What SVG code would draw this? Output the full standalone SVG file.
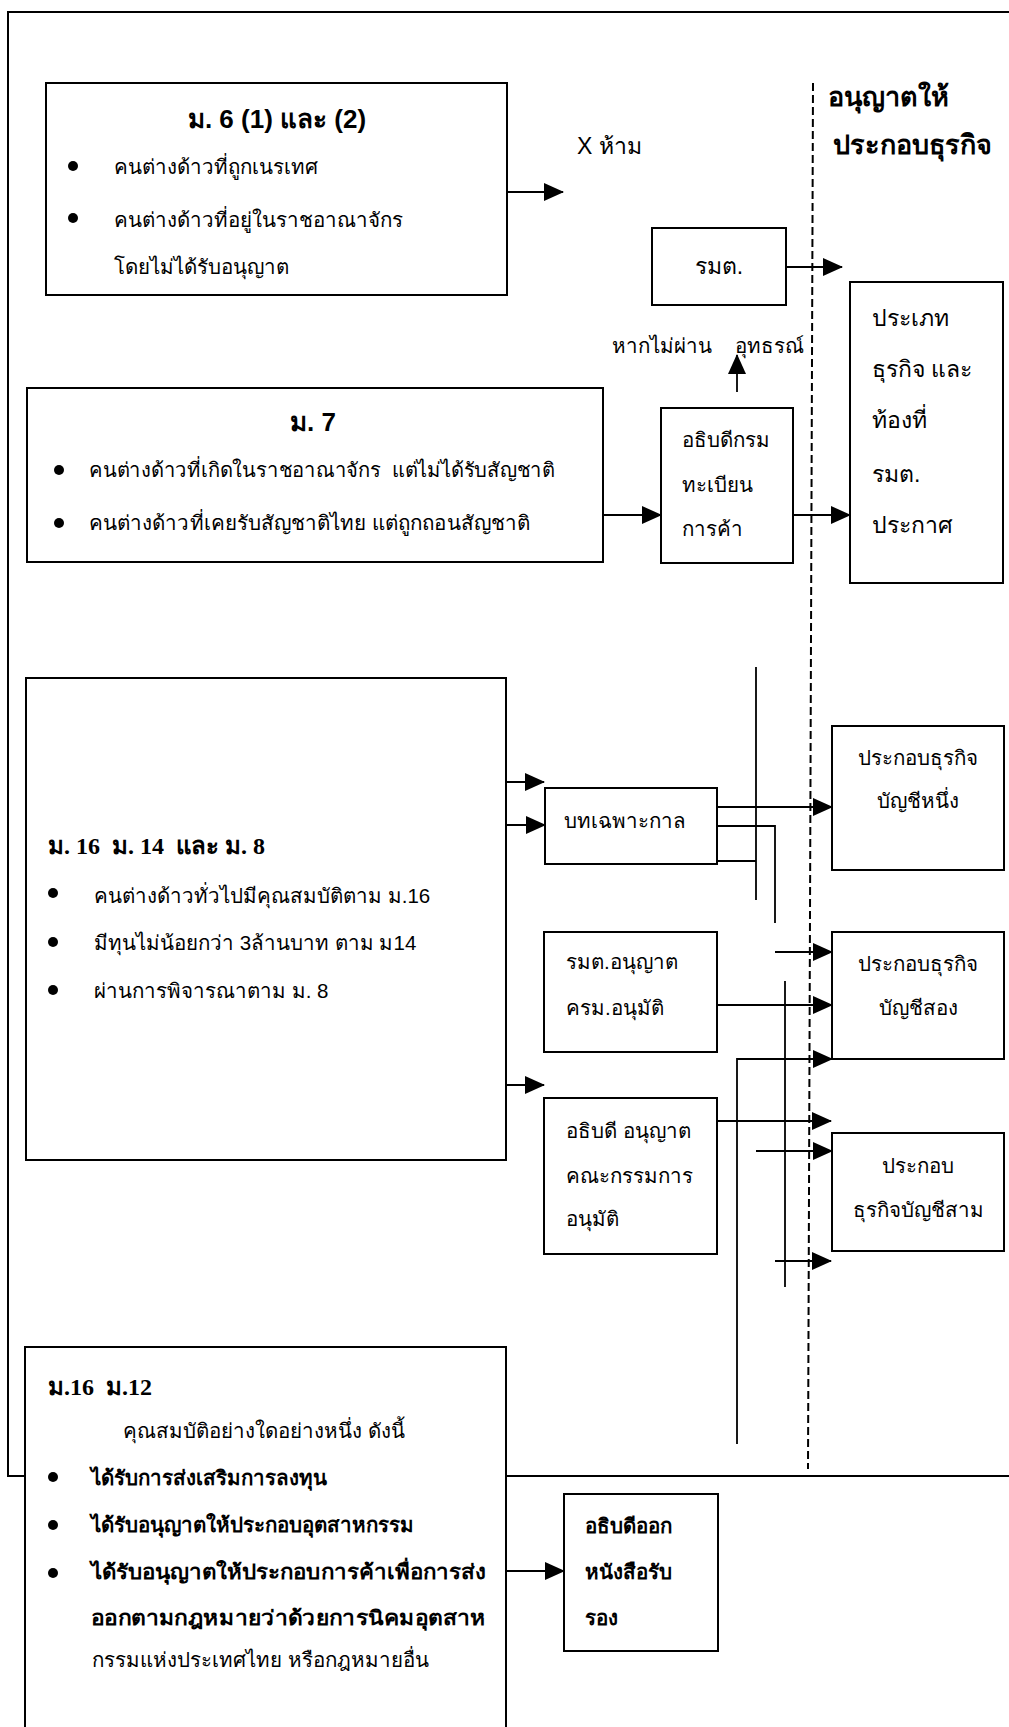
<svg xmlns="http://www.w3.org/2000/svg" width="1009" height="1727" viewBox="0 0 1009 1727">
<style>
text{font-family:'Liberation Sans','DejaVu Sans','Noto Sans',sans-serif;font-size:20.5px;fill:#000}
.b{font-weight:bold}
.t{font-size:26px;font-weight:bold}
.h{font-size:27px;font-weight:bold}
.m{font-size:23px}
.s{font-family:'Liberation Serif','DejaVu Serif',serif;font-size:24px;font-weight:bold}
.c{text-anchor:middle}
.box{fill:none;stroke:#000;stroke-width:2}
.ln{fill:none;stroke:#000;stroke-width:1.8}
.ar{fill:none;stroke:#000;stroke-width:1.8;marker-end:url(#ah)}
.dash{fill:none;stroke:#000;stroke-width:2;stroke-dasharray:8 4}
</style>
<defs>
<marker id="ah" markerUnits="userSpaceOnUse" markerWidth="20" markerHeight="18" refX="19" refY="9" orient="auto">
<path d="M0,0 L20,9 L0,18 Z" fill="#000"/>
</marker>
</defs>
<rect x="0" y="0" width="1009" height="1727" fill="#fff"/>

<g id="frame">
<path class="box" d="M25,1476 H8 V12 H1009"/>
<path class="box" d="M506,1476 H1009"/>
<path class="dash" d="M813,83 L808,1469"/>
</g>

<g id="n-m6">
<rect class="box" x="46" y="83" width="461" height="212"/>
<text class="t c" x="277" y="128">ม. 6 (1) และ (2)</text>
<circle cx="73" cy="166" r="5"/>
<circle cx="73" cy="218" r="5"/>
<text x="114" y="174">คนต่างด้าวที่ถูกเนรเทศ</text>
<text x="114" y="227">คนต่างด้าวที่อยู่ในราชอาณาจักร</text>
<text x="114" y="274">โดยไม่ได้รับอนุญาต</text>
</g>

<g id="n-ban">
<text class="m" x="577" y="154">X ห้าม</text>
</g>

<g id="n-allow">
<text class="h" x="828" y="106">อนุญาตให้</text>
<text class="h" x="833" y="154">ประกอบธุรกิจ</text>
</g>

<g id="n-rmt">
<rect class="box" x="652" y="228" width="134" height="77"/>
<text class="m c" x="719" y="274">รมต.</text>
</g>

<g id="n-type">
<rect class="box" x="850" y="282" width="153" height="301"/>
<text class="m" x="872" y="326">ประเภท</text>
<text class="m" x="872" y="377">ธุรกิจ และ</text>
<text class="m" x="872" y="428">ท้องที่</text>
<text class="m" x="872" y="482">รมต.</text>
<text class="m" x="872" y="533">ประกาศ</text>
</g>

<g id="n-appeal">
<text x="612" y="353">หากไม่ผ่าน</text>
<text x="735" y="353">อุทธรณ์</text>
</g>

<g id="n-m7">
<rect class="box" x="27" y="388" width="576" height="174"/>
<text class="t c" x="313" y="431">ม. 7</text>
<circle cx="59" cy="470" r="5"/>
<circle cx="59" cy="523" r="5"/>
<text x="89" y="477" textLength="466" lengthAdjust="spacingAndGlyphs" xml:space="preserve">คนต่างด้าวที่เกิดในราชอาณาจักร  แต่ไม่ได้รับสัญชาติ</text>
<text x="89" y="530" textLength="441" lengthAdjust="spacingAndGlyphs">คนต่างด้าวที่เคยรับสัญชาติไทย แต่ถูกถอนสัญชาติ</text>
</g>

<g id="n-dg">
<rect class="box" x="661" y="408" width="132" height="155"/>
<text x="682" y="447">อธิบดีกรม</text>
<text x="682" y="492">ทะเบียน</text>
<text x="682" y="536">การค้า</text>
</g>

<g id="n-m16">
<rect class="box" x="26" y="678" width="480" height="482"/>
<text class="s" x="48" y="854" xml:space="preserve">ม. 16  ม. 14  และ ม. 8</text>
<circle cx="53" cy="893" r="5"/>
<circle cx="53" cy="942" r="5"/>
<circle cx="53" cy="990" r="5"/>
<text x="94" y="903">คนต่างด้าวทั่วไปมีคุณสมบัติตาม ม.16</text>
<text x="94" y="950">มีทุนไม่น้อยกว่า 3ล้านบาท ตาม ม14</text>
<text x="94" y="998">ผ่านการพิจารณาตาม ม. 8</text>
</g>

<g id="n-trans">
<rect class="box" x="545" y="788" width="172" height="76"/>
<text x="564" y="828">บทเฉพาะกาล</text>
</g>

<g id="n-cab">
<rect class="box" x="544" y="932" width="173" height="120"/>
<text x="566" y="969">รมต.อนุญาต</text>
<text x="566" y="1015">ครม.อนุมัติ</text>
</g>

<g id="n-dgc">
<rect class="box" x="544" y="1098" width="173" height="156"/>
<text x="566" y="1138">อธิบดี อนุญาต</text>
<text x="566" y="1183">คณะกรรมการ</text>
<text x="566" y="1226">อนุมัติ</text>
</g>

<g id="n-l1">
<rect class="box" x="832" y="726" width="172" height="144"/>
<text class="c" x="918" y="765">ประกอบธุรกิจ</text>
<text class="c" x="918" y="808">บัญชีหนึ่ง</text>
</g>

<g id="n-l2">
<rect class="box" x="832" y="932" width="172" height="127"/>
<text class="c" x="918" y="971">ประกอบธุรกิจ</text>
<text class="c" x="918" y="1015">บัญชีสอง</text>
</g>

<g id="n-l3">
<rect class="box" x="832" y="1133" width="172" height="118"/>
<text class="c" x="918" y="1173">ประกอบ</text>
<text class="c" x="918" y="1217">ธุรกิจบัญชีสาม</text>
</g>

<g id="n-m12">
<path class="box" d="M25,1727 V1347 H506 V1727"/>
<text class="s" x="48" y="1395" xml:space="preserve">ม.16  ม.12</text>
<text x="123" y="1438">คุณสมบัติอย่างใดอย่างหนึ่ง ดังนี้</text>
<circle cx="53" cy="1477" r="5"/>
<circle cx="53" cy="1525" r="5"/>
<circle cx="53" cy="1573" r="5"/>
<text class="b" x="91" y="1485">ได้รับการส่งเสริมการลงทุน</text>
<text class="b" x="91" y="1532">ได้รับอนุญาตให้ประกอบอุตสาหกรรม</text>
<text class="b" x="91" y="1579" textLength="395" lengthAdjust="spacingAndGlyphs">ได้รับอนุญาตให้ประกอบการค้าเพื่อการส่ง</text>
<text class="b" x="91" y="1625" textLength="395" lengthAdjust="spacingAndGlyphs">ออกตามกฎหมายว่าด้วยการนิคมอุตสาห</text>
<text x="92" y="1667">กรรมแห่งประเทศไทย หรือกฎหมายอื่น</text>
</g>

<g id="n-cert">
<rect class="box" x="564" y="1494" width="154" height="157"/>
<text class="b" x="585" y="1533">อธิบดีออก</text>
<text class="b" x="585" y="1579">หนังสือรับ</text>
<text class="b" x="585" y="1625">รอง</text>
</g>

<g id="connectors">
<path class="ar" d="M507,192 H563"/>
<path class="ar" d="M786,267 H842"/>
<path class="ar" d="M737,392 V355"/>
<path class="ar" d="M603,515 H661"/>
<path class="ar" d="M793,515 H850"/>
<path class="ar" d="M506,782 H544"/>
<path class="ar" d="M506,825 H545"/>
<path class="ar" d="M506,1085 H544"/>
<path class="ln" d="M756,667 V900"/>
<path class="ar" d="M717,807 H832"/>
<path class="ln" d="M717,826 H775 V923"/>
<path class="ln" d="M717,861 H756"/>
<path class="ar" d="M775,952 H832"/>
<path class="ar" d="M717,1005 H832"/>
<path class="ln" d="M785,981 V1287"/>
<path class="ar" d="M737,1444 V1059 H832"/>
<path class="ar" d="M717,1121 H831"/>
<path class="ar" d="M756,1151 H832"/>
<path class="ar" d="M775,1261 H831"/>
<path class="ar" d="M506,1571 H564"/>
</g>
</svg>
